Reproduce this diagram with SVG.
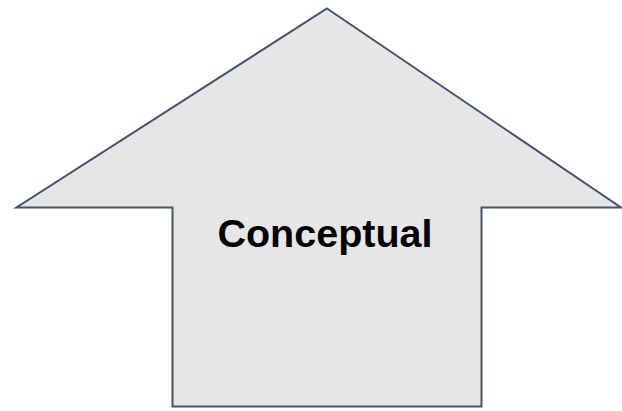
<svg xmlns="http://www.w3.org/2000/svg" width="622" height="411" viewBox="0 0 622 411">
<style>
.shape{fill:#e6e6e6;stroke:#44546a;stroke-width:2;stroke-linejoin:miter}
.label{font-family:"Liberation Sans",Arial,sans-serif;font-weight:bold;font-size:39.5px;fill:#000;text-anchor:middle}
</style>
<rect width="622" height="411" fill="#ffffff"/>
<g id="arrow">
<polygon class="shape" points="327,8.5 621,207.5 481.5,207.5 481.5,406.5 172.5,406.5 172.5,207.5 16.5,207.5"/>
<text class="label" x="325" y="246.5">Conceptual</text>
</g>
<g id="connectors"/>
</svg>
